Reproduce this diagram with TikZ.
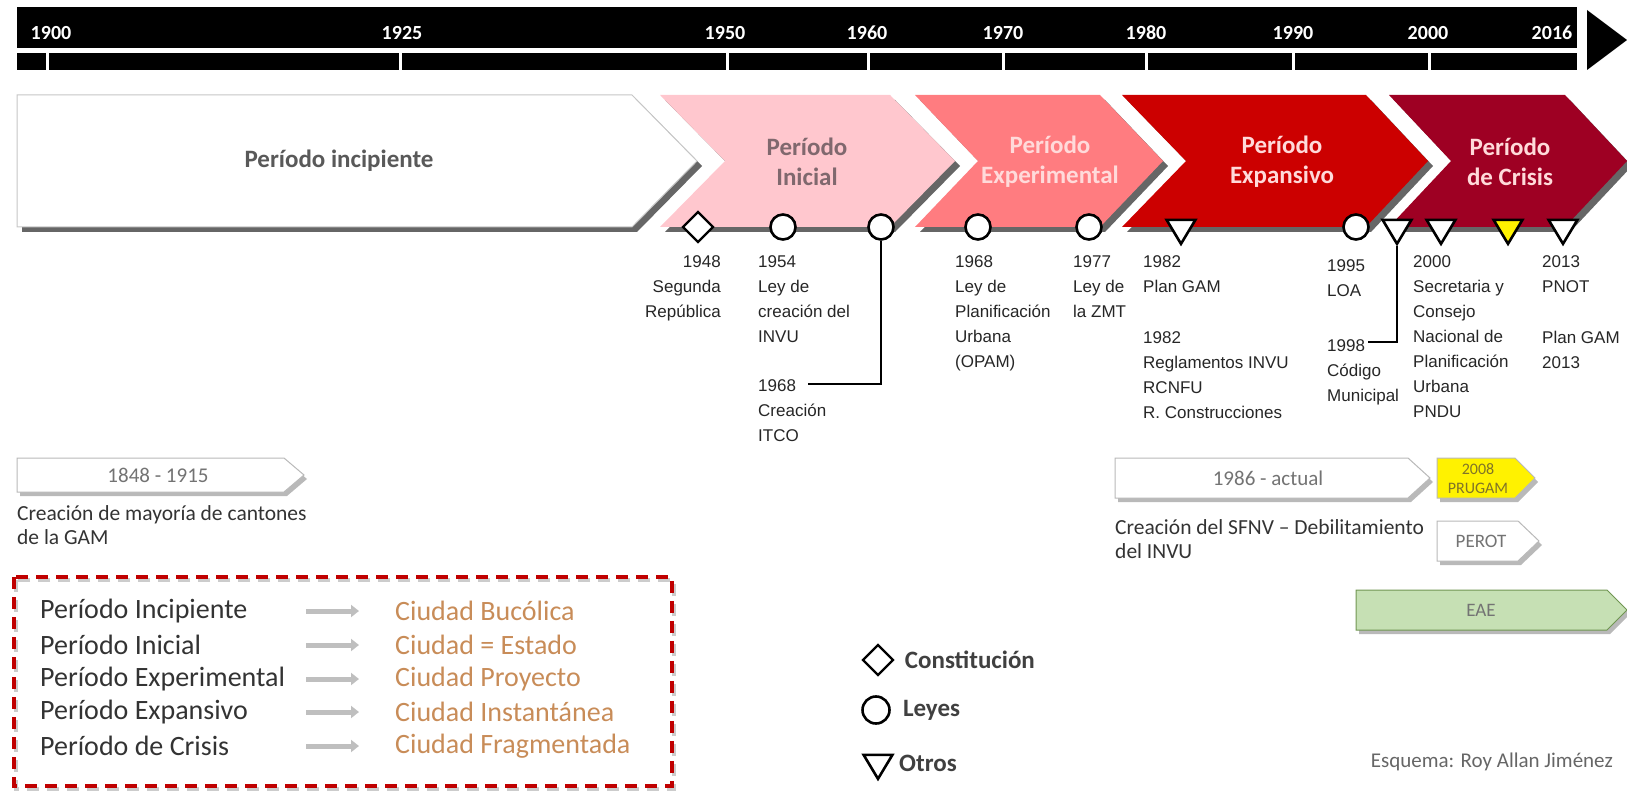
\documentclass[tikz,border=0pt]{standalone}
\usepackage{fontspec}
\setmainfont{Carlito}
\newfontfamily\arialfont{Liberation Sans}
\usepackage{xcolor}
\usepackage{tikz}
\usetikzlibrary{shapes.geometric, arrows.meta, positioning, calc}

\definecolor{inicialfill}{RGB}{255,199,206}
\definecolor{experfill}{RGB}{255,124,128}
\definecolor{expanfill}{RGB}{204,0,0}
\definecolor{crisisfill}{RGB}{158,0,35}
\definecolor{inicialtext}{RGB}{128,104,110}
\definecolor{lighttext}{RGB}{255,218,218}
\definecolor{legred}{RGB}{192,0,0}
\definecolor{ciudad}{RGB}{200,140,88}
\definecolor{eaefill}{RGB}{198,224,180}
\definecolor{eaedraw}{RGB}{112,150,82}
\definecolor{prugamtext}{RGB}{128,116,40}

\begin{document}
\begin{tikzpicture}[
  x=1pt, y=-1pt,
  >={Triangle[length=8pt,width=12pt]},
  yearlbl/.style={font=\fontsize{20}{22}\selectfont\bfseries, text=white, inner sep=0},
  pershadow/.style={fill=black!60},
  pertext/.style={font=\fontsize{25}{30}\selectfont\bfseries, align=center, inner sep=0},
  ley/.style={circle, draw=black, line width=2.6pt, fill=white, minimum size=25pt, inner sep=0},
  constit/.style={diamond, draw=black, line width=2.4pt, fill=white, minimum width=31pt, minimum height=31pt, inner sep=0},
  otro/.style={isosceles triangle, isosceles triangle apex angle=62, shape border rotate=-90, draw=black, line width=2.6pt, fill=white, minimum size=24pt, inner sep=0},
  evt/.style={font=\arialfont\fontsize{17}{25}\selectfont, text=black!85, align=left, inner sep=0, anchor=north west},
  evtlink/.style={draw=black, line width=2.2pt},
  tagbox/.style={draw=gray!55, fill=white, line width=1pt},
  tagshadow/.style={fill=gray!55},
  tagtxt/.style={font=\fontsize{21}{24}\selectfont, text=black!55, inner sep=0},
  notetxt/.style={font=\fontsize{21.5}{24}\selectfont, text=black!80, align=left, inner sep=0, anchor=north west},
  legbox/.style={draw=legred, line width=3.5pt, dash pattern=on 12pt off 8pt},
  legtxt/.style={font=\fontsize{28}{30}\selectfont, text=black!80, anchor=west, inner sep=0},
  citytxt/.style={legtxt, text=ciudad},
  mapsto/.style={draw=gray!50, line width=5pt, ->},
  symtxt/.style={font=\fontsize{25}{28}\selectfont\bfseries, text=black!75, anchor=west, inner sep=0}
]
\useasboundingbox (0,0) rectangle (1627,791);

% Year bar
\fill[black] (17,7) rectangle (1577,48);
\fill[black] (17,53) rectangle (1577,70);
\fill[black] (1587,10) -- (1627,40) -- (1587,70) -- cycle;
\draw[white, line width=3pt] (47,52) -- (47,71);
\draw[white, line width=3pt] (400,52) -- (400,71);
\draw[white, line width=3pt] (727,52) -- (727,71);
\draw[white, line width=3pt] (868,52) -- (868,71);
\draw[white, line width=3pt] (1003,52) -- (1003,71);
\draw[white, line width=3pt] (1146,52) -- (1146,71);
\draw[white, line width=3pt] (1293,52) -- (1293,71);
\draw[white, line width=3pt] (1429,52) -- (1429,71);

\node[yearlbl] (y1900) at (51,33) {1900};
\node[yearlbl] (y1925) at (402,33) {1925};
\node[yearlbl] (y1950) at (725,33) {1950};
\node[yearlbl] (y1960) at (867,33) {1960};
\node[yearlbl] (y1970) at (1003,33) {1970};
\node[yearlbl] (y1980) at (1146,33) {1980};
\node[yearlbl] (y1990) at (1293,33) {1990};
\node[yearlbl] (y2000) at (1428,33) {2000};
\node[yearlbl] (y2016) at (1552,33) {2016};

% Periods
\fill[pershadow, shift={(5,5)}] (17,95) -- (632,95) -- (697,161) -- (632,227) -- (17,227) -- cycle;
\filldraw[fill=white, draw=gray!45, line width=1pt] (17,95) -- (632,95) -- (697,161) -- (632,227) -- (17,227) -- cycle;
\fill[pershadow, shift={(5,5)}] (660,95) -- (890,95) -- (955,161) -- (890,227) -- (660,227) -- (725,161) -- cycle;
\fill[inicialfill] (660,95) -- (890,95) -- (955,161) -- (890,227) -- (660,227) -- (725,161) -- cycle;
\fill[pershadow, shift={(5,5)}] (915,95) -- (1100,95) -- (1163,161) -- (1100,227) -- (915,227) -- (978,161) -- cycle;
\fill[experfill] (915,95) -- (1100,95) -- (1163,161) -- (1100,227) -- (915,227) -- (978,161) -- cycle;
\fill[pershadow, shift={(5,5)}] (1122,95) -- (1366,95) -- (1428,161) -- (1366,227) -- (1122,227) -- (1186,161) -- cycle;
\fill[expanfill] (1122,95) -- (1366,95) -- (1428,161) -- (1366,227) -- (1122,227) -- (1186,161) -- cycle;
\fill[pershadow, shift={(5,5)}] (1389,95) -- (1565,95) -- (1627,161) -- (1565,227) -- (1389,227) -- (1451,161) -- cycle;
\fill[crisisfill] (1389,95) -- (1565,95) -- (1627,161) -- (1565,227) -- (1389,227) -- (1451,161) -- cycle;

\node[pertext, text=black!65] (pincip) at (339,161) {Período incipiente};
\node[pertext, text=inicialtext] (pinicial) at (807,162) {Período\\Inicial};
\node[pertext, text=lighttext] (pexper) at (1050,162) {Período\\Experimental};
\node[pertext, text=lighttext] (pexpan) at (1282,162) {Período\\Expansivo};
\node[pertext, text=lighttext] (pcrisis) at (1510,162) {Período\\de Crisis};

% Events
\node[constit] (m1948) at (698,227) {};
\node[ley] (m1954) at (783,227) {};
\node[ley] (m1968i) at (881,227) {};
\node[ley] (m1968p) at (978,227) {};
\node[ley] (m1977) at (1089,227) {};
\node[otro] (m1982) at (1181,228) {};
\node[ley] (m1995) at (1356,227) {};
\node[otro] (m1998) at (1397,228) {};
\node[otro] (m2000) at (1441,228) {};
\node[otro, fill=yellow] (m2008) at (1508,228) {};
\node[otro] (m2013) at (1563,228) {};

\node[evt, anchor=north east, align=right] (e1948) at (721,255) {1948\\Segunda\\República};
\node[evt] (e1954) at (758,255) {1954\\Ley de\\creación del\\INVU};
\node[evt] (e1968i) at (758,379) {1968\\Creación\\ITCO};
\node[evt] (e1968p) at (955,255) {1968\\Ley de\\Planificación\\Urbana\\(OPAM)};
\node[evt] (e1977) at (1073,255) {1977\\Ley de\\la ZMT};
\node[evt] (e1982a) at (1143,255) {1982\\Plan GAM};
\node[evt] (e1982b) at (1143,331) {1982\\Reglamentos INVU\\RCNFU\\R. Construcciones};
\node[evt] (e1995) at (1327,259) {1995\\LOA};
\node[evt] (e1998) at (1327,339) {1998\\Código\\Municipal};
\node[evt] (e2000) at (1413,255) {2000\\Secretaria y\\Consejo\\Nacional de\\Planificación\\Urbana\\PNDU};
\node[evt] (e2013a) at (1542,255) {2013\\PNOT};
\node[evt] (e2013b) at (1542,331) {Plan GAM\\2013};

\coordinate (itcoend) at (808,384);
\draw[evtlink] (m1968i.south) |- (itcoend);
\coordinate (codend) at (1368,342);
\draw[evtlink] (m1998.apex) |- (codend);

% Lower tags
\fill[tagshadow, shift={(3,4)}] (17,458) -- (284,458) -- (304,475) -- (284,492) -- (17,492) -- cycle;
\filldraw[tagbox] (17,458) -- (284,458) -- (304,475) -- (284,492) -- (17,492) -- cycle;
\node[tagtxt] (t1848) at (158,475) {1848 - 1915};
\node[notetxt] (n1848) at (17,505) {Creación de mayoría de cantones\\de la GAM};

\fill[tagshadow, shift={(3,4)}] (1115,458) -- (1408,458) -- (1430,478) -- (1408,498) -- (1115,498) -- cycle;
\filldraw[tagbox] (1115,458) -- (1408,458) -- (1430,478) -- (1408,498) -- (1115,498) -- cycle;
\node[tagtxt] (t1986) at (1268,478) {1986 - actual};
\node[notetxt] (n1986) at (1115,519) {Creación del SFNV – Debilitamiento\\del INVU};

\fill[tagshadow, shift={(3,4)}] (1437,458) -- (1515,458) -- (1535,478) -- (1515,498) -- (1437,498) -- cycle;
\filldraw[tagbox, fill=yellow] (1437,458) -- (1515,458) -- (1535,478) -- (1515,498) -- (1437,498) -- cycle;
\node[tagtxt, text=prugamtext, font=\fontsize{16}{19}\selectfont, align=center] (tprugam) at (1478,479) {2008\\PRUGAM};

\fill[tagshadow, shift={(3,4)}] (1437,521) -- (1518,521) -- (1539,541) -- (1518,561) -- (1437,561) -- cycle;
\filldraw[tagbox] (1437,521) -- (1518,521) -- (1539,541) -- (1518,561) -- (1437,561) -- cycle;
\node[tagtxt, font=\fontsize{19}{20}\selectfont] (tperot) at (1481,541) {PEROT};

\fill[tagshadow, shift={(3,4)}] (1356,590) -- (1607,590) -- (1627,610) -- (1607,630) -- (1356,630) -- cycle;
\filldraw[tagbox, fill=eaefill, draw=eaedraw] (1356,590) -- (1607,590) -- (1627,610) -- (1607,630) -- (1356,630) -- cycle;
\node[tagtxt, font=\fontsize{19}{20}\selectfont] (teae) at (1481,610) {EAE};

% Legend box
\draw[legbox, draw=gray!40, shift={(2,3)}] (14,577) rectangle (672,786);
\draw[legbox] (14,577) rectangle (672,786);

\node[legtxt] (lincip) at (40,611) {Período Incipiente};
\node[legtxt] (linicial) at (40,645) {Período Inicial};
\node[legtxt] (lexper) at (40,679) {Período Experimental};
\node[legtxt] (lexpan) at (40,712) {Período Expansivo};
\node[legtxt] (lcrisis) at (40,746) {Período de Crisis};

\node[citytxt] (cbucol) at (395,611) {Ciudad Bucólica};
\node[citytxt] (cestado) at (395,645) {Ciudad = Estado};
\node[citytxt] (cproy) at (395,679) {Ciudad Proyecto};
\node[citytxt] (cinst) at (395,712) {Ciudad Instantánea};
\node[citytxt] (cfrag) at (395,746) {Ciudad Fragmentada};

\draw[mapsto] ([xshift=-89pt]cbucol.west) -- ([xshift=-36pt]cbucol.west);
\draw[mapsto] ([xshift=-89pt]cestado.west) -- ([xshift=-36pt]cestado.west);
\draw[mapsto] ([xshift=-89pt]cproy.west) -- ([xshift=-36pt]cproy.west);
\draw[mapsto] ([xshift=-89pt]cinst.west) -- ([xshift=-36pt]cinst.west);
\draw[mapsto] ([xshift=-89pt]cfrag.west) -- ([xshift=-36pt]cfrag.west);

% Symbol legend
\node[constit] (symc) at (878,660) {};
\node[ley, minimum size=27pt] (syml) at (876,710) {};
\node[otro] (symo) at (878,763) {};
\node[symtxt, right=10pt of symc] (txtc) {Constitución};
\node[symtxt, right=12pt of syml] (txtl) {Leyes};
\node[symtxt, right=10pt of symo] (txto) {Otros};

\node[font=\fontsize{21}{24}\selectfont, text=black!60, anchor=east, inner sep=0] (credit) at (1613,762) {Esquema: Roy Allan Jiménez};

\end{tikzpicture}
\end{document}
